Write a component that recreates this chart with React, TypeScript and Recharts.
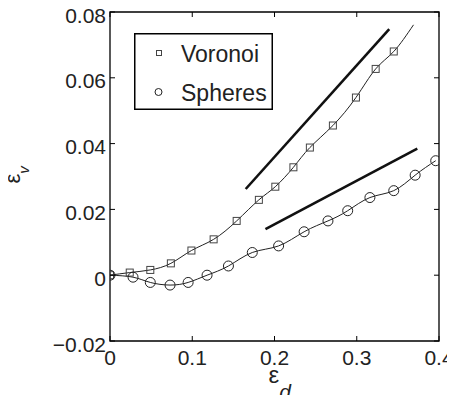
import React from "react";
import {
	ComposedChart,
	Line,
	Scatter,
	XAxis,
	YAxis,
	Legend,
	Label,
	ReferenceArea,
} from "recharts";

// strain values
const voronoiEps = [
	0, 0.024, 0.049, 0.074, 0.099, 0.126, 0.154, 0.181, 0.201, 0.223, 0.243,
	0.271, 0.299, 0.323, 0.345,
];
const voronoiVol = [
	0, 0.0008, 0.0016, 0.0036, 0.0075, 0.0109, 0.0165, 0.0229, 0.0269, 0.0328,
	0.0388, 0.0455, 0.054, 0.0627, 0.068,
];
// curve keeps going past the last marker
const voronoiTailEps = [0.369];
const voronoiTailVol = [0.0761];

const spheresEps = [
	0, 0.028, 0.049, 0.073, 0.095, 0.118, 0.144, 0.173, 0.205, 0.236, 0.265,
	0.289, 0.316, 0.345, 0.371, 0.396,
];
const spheresVol = [
	0, -0.0006, -0.0022, -0.003, -0.0022, 0, 0.0028, 0.0069, 0.0089, 0.0132,
	0.0165, 0.0196, 0.0236, 0.0257, 0.0304, 0.0348,
];

// slope guide segments
const guideUpperEps = [0.165, 0.3395];
const guideUpperVol = [0.0262, 0.0748];
const guideLowerEps = [0.189, 0.3736];
const guideLowerVol = [0.014, 0.0385];

const xTicks = [0, 0.1, 0.2, 0.3, 0.4];
const yTicks = [-0.02, 0, 0.02, 0.04, 0.06, 0.08];
const xTickLabels = ["0", "0.1", "0.2", "0.3", "0.4"];
const yTickLabels = ["\u22120.02", "0", "0.02", "0.04", "0.06", "0.08"];

// chart fills the whole window (body margin cancelled below)
const CHART_W = 455;
const CHART_H = 403;
const MARGIN = { top: 12, right: 16, bottom: 0, left: 0 };
const PLOT_TOP = MARGIN.top;
const PLOT_RIGHT = CHART_W - MARGIN.right;
const FONT = "'Liberation Sans', Arial, Helvetica, sans-serif";
const TICK_LEN = 5;

const toPoints = (xs: number[], ys: number[]) =>
	xs.map((x, i) => ({ x, y: ys[i] }));

const voronoiPts = toPoints(voronoiEps, voronoiVol);
const voronoiCurve = [...voronoiPts, ...toPoints(voronoiTailEps, voronoiTailVol)];
const spheresPts = toPoints(spheresEps, spheresVol);
const guideUpper = toPoints(guideUpperEps, guideUpperVol);
const guideLower = toPoints(guideLowerEps, guideLowerVol);

function XTick(props: { x?: number; y?: number; payload?: { value?: number } }) {
	const x = props.x ?? 0;
	const y = props.y ?? 0;
	const idx = xTicks.indexOf(props.payload?.value ?? -1);
	return (
		<g>
			<line x1={x} y1={y} x2={x} y2={y - TICK_LEN} stroke="#000" />
			<line x1={x} y1={PLOT_TOP} x2={x} y2={PLOT_TOP + TICK_LEN} stroke="#000" />
			<text
				x={x}
				y={y + 24}
				textAnchor="middle"
				fontSize={21}
				fontFamily={FONT}
				fill="#222"
			>
				{xTickLabels[idx] ?? ""}
			</text>
		</g>
	);
}

function YTick(props: { x?: number; y?: number; payload?: { value?: number } }) {
	const x = props.x ?? 0;
	const y = props.y ?? 0;
	const idx = yTicks.indexOf(props.payload?.value ?? -1);
	return (
		<g>
			<line x1={x} y1={y} x2={x + TICK_LEN} y2={y} stroke="#000" />
			<line x1={PLOT_RIGHT} y1={y} x2={PLOT_RIGHT - TICK_LEN} y2={y} stroke="#000" />
			<text
				x={x - 4}
				y={y}
				dy="0.5em"
				textAnchor="end"
				fontSize={21}
				fontFamily={FONT}
				fill="#222"
			>
				{yTickLabels[idx] ?? ""}
			</text>
		</g>
	);
}

function SquareMarker(props: { cx?: number; cy?: number }) {
	const cx = props.cx ?? 0;
	const cy = props.cy ?? 0;
	return (
		<rect
			x={cx - 3.5}
			y={cy - 3.5}
			width={7}
			height={7}
			fill="none"
			stroke="#444"
			strokeWidth={1}
		/>
	);
}

function CircleMarker(props: { cx?: number; cy?: number }) {
	return (
		<circle
			cx={props.cx ?? 0}
			cy={props.cy ?? 0}
			r={5}
			fill="none"
			stroke="#222"
			strokeWidth={1}
		/>
	);
}

function renderLegend() {
	return (
		<svg width={139} height={77} style={{ display: "block" }}>
			<rect
				x={0.75}
				y={0.75}
				width={137.5}
				height={75.5}
				fill="#fff"
				stroke="#000"
				strokeWidth={1.5}
			/>
			<rect x={22.5} y={17.5} width={5} height={5} fill="none" stroke="#444" />
			<text x={47} y={29} fontSize={23} fontFamily={FONT} fill="#222">
				Voronoi
			</text>
			<circle cx={24.5} cy={59} r={3.5} fill="none" stroke="#222" />
			<text x={47} y={68} fontSize={23} fontFamily={FONT} fill="#222">
				Spheres
			</text>
		</svg>
	);
}

function XLabel(props: { viewBox?: { x?: number; y?: number; width?: number } }) {
	const vb = props.viewBox ?? {};
	const x = (vb.x ?? 0) + (vb.width ?? 0) / 2 - 6;
	const y = (vb.y ?? 0) + 42;
	return (
		<text x={x} y={y} fontSize={24} fontFamily={FONT} fill="#222">
			{"\u03b5"}
			<tspan dy={16} fontSize={21} fontStyle="italic">
				d
			</tspan>
		</text>
	);
}

function YLabel(props: { viewBox?: { x?: number; y?: number; height?: number } }) {
	const vb = props.viewBox ?? {};
	const x = (vb.x ?? 0) + 20;
	const y = (vb.y ?? 0) + (vb.height ?? 0) / 2 + 7;
	return (
		<text
			x={x}
			y={y}
			transform={`rotate(-90, ${x}, ${y})`}
			fontSize={22}
			fontFamily={FONT}
			fill="#222"
		>
			{"\u03b5"}
			<tspan dy={9} fontSize={15} fontStyle="italic">
				v
			</tspan>
		</text>
	);
}

export default function App() {
	return (
		<div style={{ width: CHART_W, height: CHART_H, margin: -8 }}>
			<ComposedChart width={CHART_W} height={CHART_H} margin={MARGIN}>
				<XAxis
					dataKey="x"
					type="number"
					domain={[0, 0.4]}
					ticks={xTicks}
					allowDataOverflow
					axisLine={false}
					tickLine={false}
					tickSize={0}
					tickMargin={0}
					height={62}
					tick={<XTick />}
					interval={0}
				>
					<Label content={<XLabel />} />
				</XAxis>
				<YAxis
					dataKey="y"
					type="number"
					domain={[-0.02, 0.08]}
					ticks={yTicks}
					allowDataOverflow
					axisLine={false}
					tickLine={false}
					tickSize={0}
					tickMargin={0}
					width={110}
					tick={<YTick />}
					interval={0}
				>
					<Label content={<YLabel />} />
				</YAxis>
				<ReferenceArea
					x1={0}
					x2={0.4}
					y1={-0.02}
					y2={0.08}
					fill="none"
					stroke="#000"
					strokeWidth={1.3}
					fillOpacity={0}
				/>
				<Line
					data={guideUpper}
					dataKey="y"
					type="linear"
					stroke="#111"
					strokeWidth={2.6}
					dot={false}
					isAnimationActive={false}
				/>
				<Line
					data={guideLower}
					dataKey="y"
					type="linear"
					stroke="#111"
					strokeWidth={2.6}
					dot={false}
					isAnimationActive={false}
				/>
				<Line
					data={voronoiCurve}
					dataKey="y"
					type="natural"
					stroke="#222"
					strokeWidth={1}
					dot={false}
					isAnimationActive={false}
				/>
				<Line
					data={spheresPts}
					dataKey="y"
					type="natural"
					stroke="#222"
					strokeWidth={1}
					dot={false}
					isAnimationActive={false}
				/>
				<Scatter
					data={voronoiPts}
					dataKey="y"
					shape={<SquareMarker />}
					isAnimationActive={false}
				/>
				<Scatter
					data={spheresPts}
					dataKey="y"
					shape={<CircleMarker />}
					isAnimationActive={false}
				/>
				<Legend
					content={renderLegend}
					layout="vertical"
					align="center"
					verticalAlign="middle"
					wrapperStyle={{ top: 33, left: 134, width: 139, height: 77 }}
				/>
			</ComposedChart>
		</div>
	);
}
